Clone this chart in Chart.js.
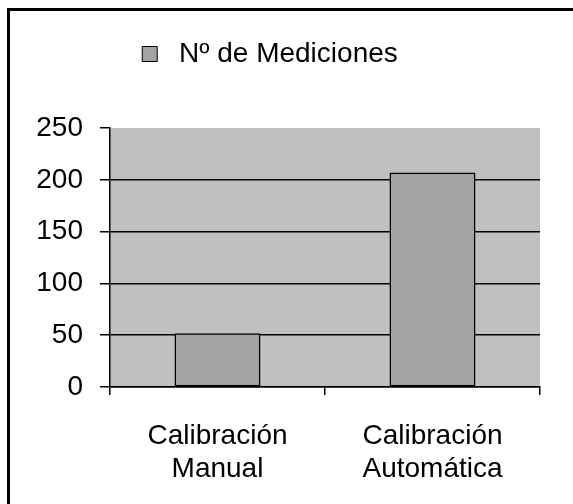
<!DOCTYPE html>
<html>
<head>
<meta charset="utf-8">
<script src="https://cdn.jsdelivr.net/npm/chart.js@4.4.1/dist/chart.umd.min.js"></script>
<style>
  html, body { margin: 0; padding: 0; background: #fff; }
  #wrap { width: 573px; height: 504px; }
</style>
</head>
<body>
<div id="wrap"><canvas id="myBarChart" width="573" height="504"></canvas></div>
<script>
// Datos del gráfico
const categorias = [['Calibración', 'Manual'], ['Calibración', 'Automática']];
const mediciones = [52, 207];
const serieNombre = 'Nº de Mediciones';
const ticksY = [0, 50, 100, 150, 200, 250];

const ctx = document.getElementById('myBarChart').getContext('2d');

// Fondo gris del área del gráfico y marco negro exterior
const fondoPlugin = {
    id: 'fondo',
    afterInit(chart) {
        // espacio extra entre la leyenda y el área del gráfico
        const fitOriginal = chart.legend.fit;
        chart.legend.fit = function () {
            fitOriginal.call(this);
            this.height += 50;
        };
    },
    beforeDraw(chart) {
        const c = chart.ctx;
        const a = chart.chartArea;
        c.save();
        c.fillStyle = '#fff';
        c.fillRect(0, 0, chart.width, chart.height);
        c.fillStyle = '#c0c0c0';
        c.fillRect(a.left, a.top, a.right - a.left, a.bottom - a.top);
        c.strokeStyle = '#000';
        c.lineWidth = 3;
        c.strokeRect(8.5, 9.5, chart.width + 20, chart.height + 20);
        c.restore();
    }
};

const data = {
    labels: categorias,
    datasets: [{
        label: serieNombre,
        data: mediciones,
        backgroundColor: '#a3a3a3',
        borderColor: '#000',
        borderWidth: 1.5,
        borderSkipped: false,
        barPercentage: 0.4,
        categoryPercentage: 1
    }]
};

const fuente = { family: 'Arial, "Liberation Sans", sans-serif', size: 28 };

const config = {
    type: 'bar',
    data: data,
    plugins: [fondoPlugin],
    options: {
        responsive: false,
        animation: false,
        layout: { padding: { left: 0, right: 33, top: 40, bottom: 0 } },
        plugins: {
            tooltip: { enabled: false },
            legend: {
                position: 'top',
                labels: {
                    color: '#000',
                    font: fuente,
                    boxWidth: 15,
                    boxHeight: 15,
                    padding: 0,
                    generateLabels(chart) {
                        const items = Chart.defaults.plugins.legend.labels.generateLabels(chart);
                        items.forEach(i => { i.text = ' ' + i.text; i.lineWidth = 1; });
                        return items;
                    }
                }
            }
        },
        scales: {
            x: {
                grid: { offset: true, drawOnChartArea: false, drawTicks: true, tickLength: 8, color: '#000', lineWidth: 1.5 },
                border: { color: '#000', width: 1.5 },
                ticks: { color: '#000', font: fuente, padding: 24, maxRotation: 0 },
                afterFit(scale) { scale.height = 117; }
            },
            y: {
                min: 0,
                max: 250,
                afterBuildTicks(scale) { scale.ticks = ticksY.map(v => ({ value: v })); },
                grid: {
                    color: c => (c.tick && c.tick.value === 250 ? 'rgba(0,0,0,0)' : '#000'),
                    tickColor: '#000',
                    lineWidth: 1.5,
                    tickLength: 10
                },
                border: { color: '#000', width: 1.5 },
                ticks: { color: '#000', font: fuente, padding: 17 },
                afterFit(scale) { scale.width = 110; }
            }
        }
    }
};

const grafico = new Chart(ctx, config);
</script>
</body>
</html>
